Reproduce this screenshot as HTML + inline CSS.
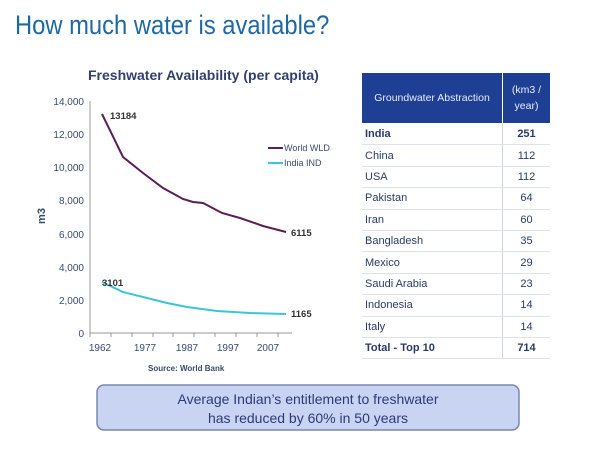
<!DOCTYPE html>
<html><head><style>
body{margin:0;width:600px;height:450px;background:#fff;position:relative;overflow:hidden;font-family:"Liberation Sans",sans-serif}
.t{position:absolute;white-space:nowrap}
table{position:absolute;left:362px;top:73px;border-collapse:collapse;font-size:11px;color:#2a3a6a}
td{height:20.4px;border-bottom:1px solid #dde2ee;padding:0 3px}
td.v{text-align:center;border-left:1px solid #cfd6e6}
</style></head><body>
<div class="t" style="left:15px;top:10px;font-size:27px;color:#1f68a6;transform:scaleX(0.88);transform-origin:0 0">How much water is available?</div>
<div class="t" style="left:88px;top:67px;font-size:14px;font-weight:bold;color:#33406e">Freshwater Availability (per capita)</div>
<svg width="600" height="450" style="position:absolute;left:0;top:0">
<g font-family="Liberation Sans" font-size="10" fill="#3a4a70" text-anchor="end">
<text x="84" y="105">14,000</text><text x="84" y="138">12,000</text><text x="84" y="171">10,000</text>
<text x="84" y="204">8,000</text><text x="84" y="238">6,000</text><text x="84" y="271">4,000</text>
<text x="84" y="304">2,000</text><text x="84" y="337">0</text>
</g>
<text x="45" y="216" font-family="Liberation Sans" font-size="11" font-weight="bold" fill="#3a4a70" transform="rotate(-90 45 216)" text-anchor="middle">m3</text>
<line x1="90" y1="101" x2="90" y2="334" stroke="#999"/>
<line x1="90" y1="333" x2="292" y2="333" stroke="#999"/>
<g stroke="#999"><line x1="90" y1="333" x2="90" y2="337"/><line x1="111" y1="333" x2="111" y2="337"/><line x1="132" y1="333" x2="132" y2="337"/><line x1="153" y1="333" x2="153" y2="337"/><line x1="173" y1="333" x2="173" y2="337"/><line x1="194" y1="333" x2="194" y2="337"/><line x1="215" y1="333" x2="215" y2="337"/><line x1="236" y1="333" x2="236" y2="337"/><line x1="257" y1="333" x2="257" y2="337"/><line x1="278" y1="333" x2="278" y2="337"/></g>
<g font-family="Liberation Sans" font-size="10" fill="#3a4a70" text-anchor="middle">
<text x="100" y="351">1962</text><text x="145" y="351">1977</text><text x="187" y="351">1987</text><text x="228" y="351">1997</text><text x="268" y="351">2007</text>
</g>
<text x="148" y="371" font-family="Liberation Sans" font-size="8" font-weight="bold" fill="#3a4a70">Source: World Bank</text>
<polyline fill="none" stroke="#5a1f55" stroke-width="2" points="102,114 123,157 143,173 163,188 183,199 193,202 203,203 222,213 240,218 263,226 286,232"/>
<polyline fill="none" stroke="#3cc6d4" stroke-width="2" points="102,282 123,292 143,297 167,303 187,307 217,311 250,313 286,314"/>
<g font-family="Liberation Sans" font-size="9.5" fill="#333" font-weight="bold">
<text x="110" y="119">13184</text><text x="291" y="236">6115</text><text x="102" y="286">3101</text><text x="291" y="317">1165</text>
</g>
<line x1="268" y1="148" x2="283" y2="148" stroke="#5a1f55" stroke-width="2"/>
<line x1="268" y1="163" x2="283" y2="163" stroke="#3cc6d4" stroke-width="2"/>
<text x="284" y="151" font-family="Liberation Sans" font-size="9" fill="#3a4a70">World WLD</text>
<text x="284" y="166" font-family="Liberation Sans" font-size="9" fill="#3a4a70">India IND</text>
<rect x="97" y="385" width="422" height="45" rx="7" fill="#c9d3f2" stroke="#7a88ad" stroke-width="1.5"/>
<text x="308" y="404" font-family="Liberation Sans" font-size="14" fill="#2c3b78" text-anchor="middle">Average Indian’s entitlement to freshwater</text>
<text x="308" y="423" font-family="Liberation Sans" font-size="14" fill="#2c3b78" text-anchor="middle">has reduced by 60% in 50 years</text>
</svg>
<div style="position:absolute;left:362px;top:73px;width:140px;height:50px;background:#1f3f94;color:#e6ecff;font-size:10.5px;display:flex;align-items:center;justify-content:center">Groundwater Abstraction</div>
<div style="position:absolute;left:503px;top:73px;width:47px;height:50px;background:#1f3f94;color:#e6ecff;font-size:10.5px;display:flex;align-items:center;justify-content:center;text-align:center;line-height:16px">(km3 /<br>year)</div>
<table style="top:124px">
<tr><td style="width:134px"><b>India</b></td><td class="v" style="width:41px"><b>251</b></td></tr>
<tr><td>China</td><td class="v">112</td></tr>
<tr><td>USA</td><td class="v">112</td></tr>
<tr><td>Pakistan</td><td class="v">64</td></tr>
<tr><td>Iran</td><td class="v">60</td></tr>
<tr><td>Bangladesh</td><td class="v">35</td></tr>
<tr><td>Mexico</td><td class="v">29</td></tr>
<tr><td>Saudi Arabia</td><td class="v">23</td></tr>
<tr><td>Indonesia</td><td class="v">14</td></tr>
<tr><td>Italy</td><td class="v">14</td></tr>
<tr><td><b>Total - Top 10</b></td><td class="v"><b>714</b></td></tr>
</table>
</body></html>
